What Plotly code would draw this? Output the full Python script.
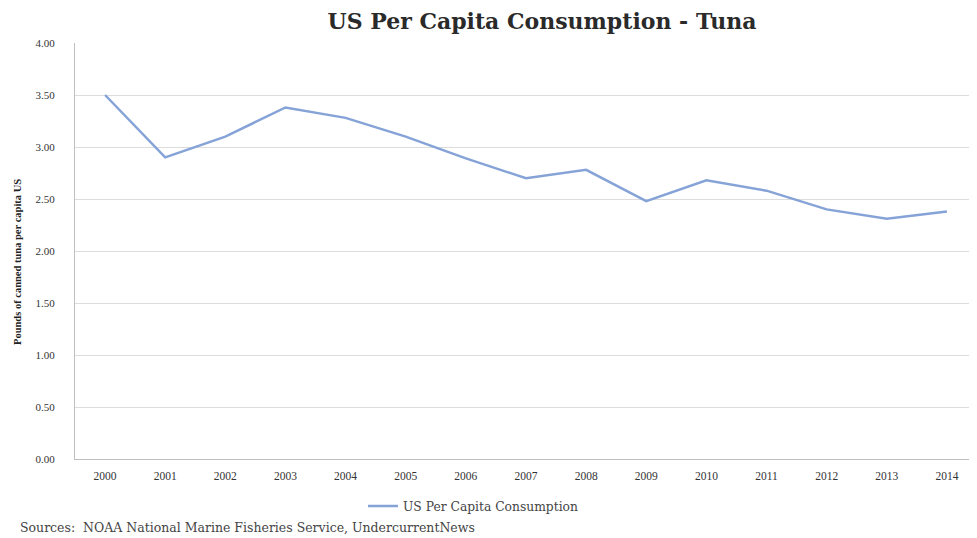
import plotly.graph_objects as go

years = ["2000", "2001", "2002", "2003", "2004", "2005", "2006", "2007",
         "2008", "2009", "2010", "2011", "2012", "2013", "2014"]
consumption = [3.50, 2.90, 3.10, 3.38, 3.28, 3.10, 2.89, 2.70,
               2.78, 2.48, 2.68, 2.58, 2.40, 2.31, 2.38]
y_ticks = [0, 0.5, 1.0, 1.5, 2.0, 2.5, 3.0, 3.5, 4.0]
y_tick_labels = ["0.00", "0.50", "1.00", "1.50", "2.00", "2.50", "3.00", "3.50", "4.00"]

serif = "Liberation Serif"
wide = "DejaVu Serif"

fig = go.Figure()
fig.add_trace(go.Scatter(
    x=years, y=consumption, mode="lines",
    name="US Per Capita Consumption",
    line=dict(color="#86a3d8", width=2.5),
))

fig.update_layout(
    width=969, height=530,
    margin=dict(l=67, r=0, t=35, b=79, autoexpand=False),
    paper_bgcolor="white", plot_bgcolor="white",
    font=dict(family=serif, color="#333333"),
    title=dict(text="<b>US Per Capita Consumption - Tuna</b>",
               x=(542 - 8) / 969, xanchor="center", y=1 - 13 / 530, yanchor="middle",
               font=dict(family=wide, size=22, color="#2a2a2a")),
    showlegend=True,
    legend=dict(orientation="h", x=(363 - 75) / 902, xanchor="left",
                y=(459 - 506) / 416, yanchor="middle",
                font=dict(family=wide, size=12.3, color="#444444"),
                bgcolor="rgba(0,0,0,0)"),
    xaxis=dict(type="category", range=[-0.5, 14.5], automargin=False,
               showgrid=False, showline=True, linecolor="#bfbfbf", linewidth=1,
               ticks="", tickfont=dict(family=serif, size=11.5, color="#333333"),
               ticklabelstandoff=6),
    yaxis=dict(range=[0, 4.0], tickvals=y_ticks, ticktext=y_tick_labels, automargin=False,
               showgrid=True, gridcolor="#dcdcdc", gridwidth=1, zeroline=False,
               showline=True, linecolor="#bfbfbf", linewidth=1,
               ticks="", tickfont=dict(family=serif, size=11, color="#333333"),
               ticklabelstandoff=17),
    annotations=[
        dict(text="<b>Pounds of canned tuna per capita US</b>",
             xref="paper", yref="paper", x=(17 - 75) / 902, y=(459 - 262) / 416,
             xanchor="center", yanchor="middle", textangle=-90, showarrow=False,
             font=dict(family=serif, size=10.5, color="#222222")),
        dict(text="Sources:  NOAA National Marine Fisheries Service, UndercurrentNews",
             xref="paper", yref="paper", x=(18 - 75) / 902, y=(459 - 527) / 416,
             xanchor="left", yanchor="middle", showarrow=False,
             font=dict(family=wide, size=12.5, color="#444444")),
    ],
)

fig.write_html("out.html")
